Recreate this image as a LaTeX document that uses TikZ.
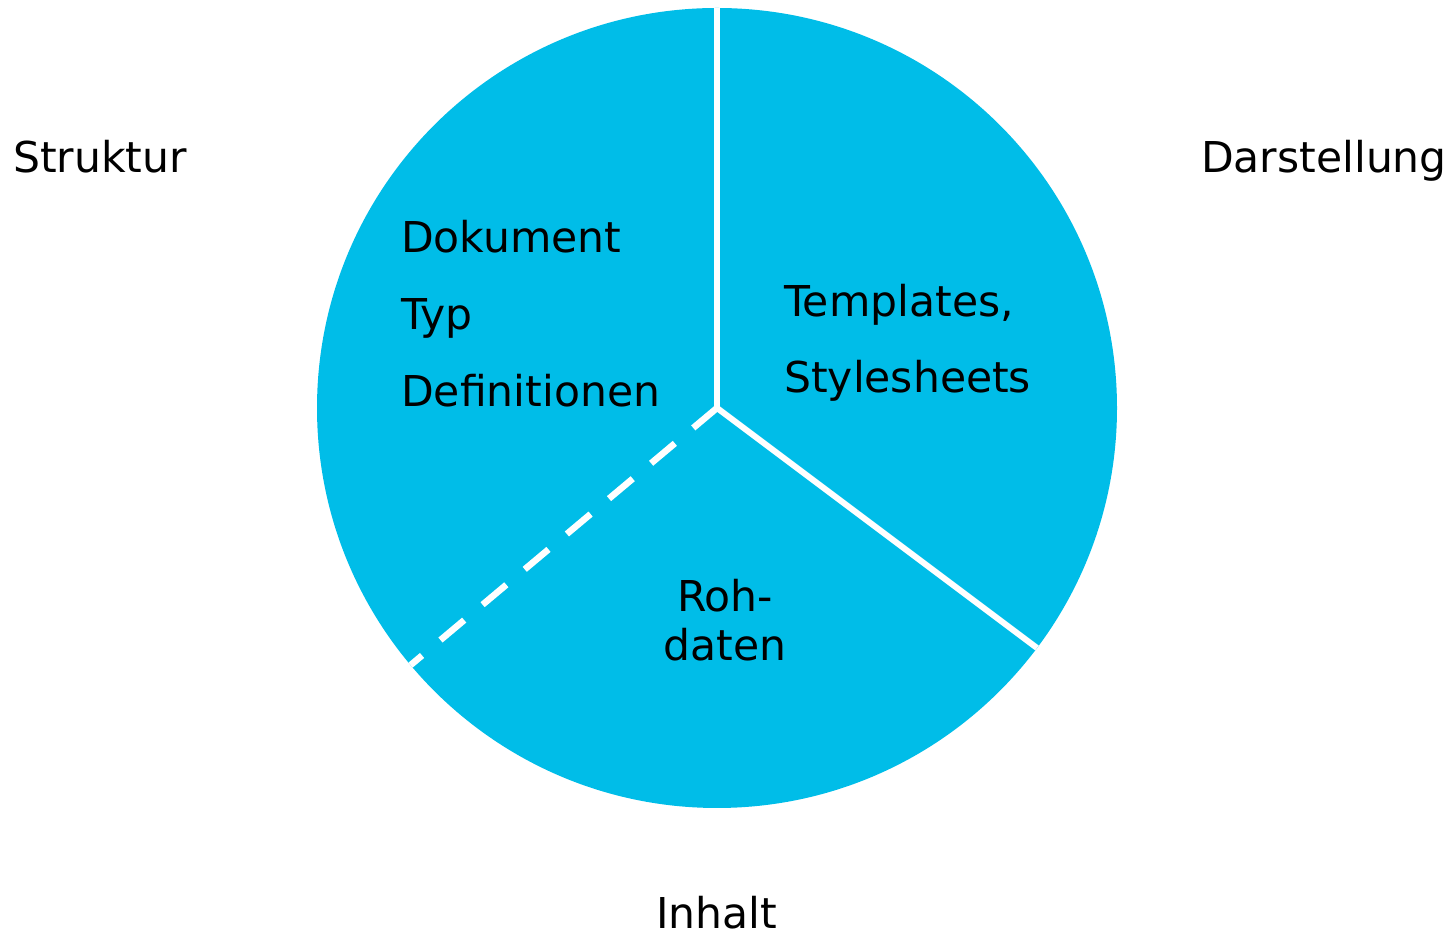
\documentclass[tikz,border=0pt]{standalone}
\usepackage{fontspec}
\setmainfont{DejaVu Sans}
\usetikzlibrary{calc}
\definecolor{pieblue}{RGB}{0,189,232}
\begin{document}
\begin{tikzpicture}[x=1pt,y=1pt,
  lbl/.style={inner sep=0pt,anchor=base west,font=\fontsize{42.5}{50}\selectfont},
  clbl/.style={inner sep=0pt,anchor=base,font=\fontsize{42.5}{50}\selectfont},
  divider/.style={draw=white,line width=6pt},
  dasheddivider/.style={draw=white,line width=6.5pt,dash pattern=on 31pt off 24pt}]
\useasboundingbox (0,0) rectangle (1449,939);
% pie body
\coordinate (c) at (717,531);
\fill[pieblue] (c) circle[radius=400];
% sector boundaries
\coordinate (ptop) at ($(c)+(90:400)$);
\coordinate (pright) at ($(c)+(-36.87:400)$);
\coordinate (pleft) at ($(c)+(220:400)$);
\draw[divider] (c) -- (ptop);
\draw[divider] (c) -- (pright);
\draw[dasheddivider] (c) -- (pleft);
% sector contents
\node[lbl] (dok) at (401,686) {Dokument};
\node[lbl] (typ) at (401,609) {Typ};
\node[lbl] (def) at (401,532) {Definitionen};
\node[lbl] (tpl) at (784,622) {Templates,};
\node[lbl] (css) at (784,546) {Stylesheets};
\node[clbl] (roh) at (725,327) {Roh-};
\node[clbl] (dat) at (725,278) {daten};
% outer captions
\node[lbl] (struktur) at (13,766) {Struktur};
\node[lbl] (darst) at (1201,766) {Darstellung};
\node[lbl] (inhalt) at (656,10) {Inhalt};
\end{tikzpicture}
\end{document}
